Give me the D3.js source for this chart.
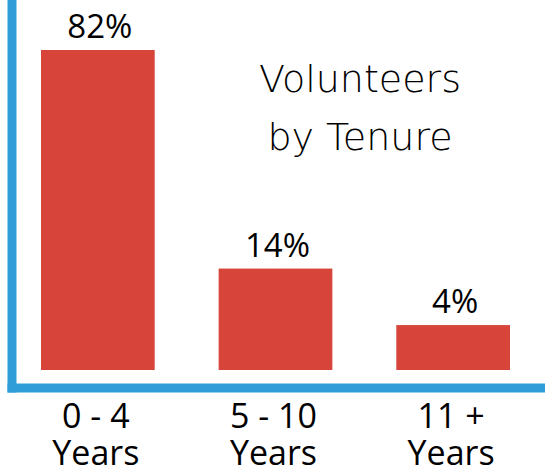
<!DOCTYPE html>
<meta charset="utf-8">
<style>
    body { margin: 0; background: #ffffff; }
    text { font-family: "Open Sans", sans-serif; fill: #000000; }
    .title { font-family: "DejaVu Sans", sans-serif; font-weight: 200; }
</style>

<!-- Load d3.js -->
<script src="https://d3js.org/d3.v7.min.js"></script>

<div id="graph"></div>

<script>
    // data
    var categories = ["0 - 4|Years", "5 - 10|Years", "11 +|Years"]
    var shares = [82, 14, 4]
    var valueLabels = ["82%", "14%", "4%"]
    var titleLines = ["Volunteers", "by Tenure"]

    var width = 545,
        height = 475,
        baseline = 370,
        axisY = 388,
        axisX = 12

    var svg = d3.select("#graph")
        .append("svg")
        .attr("width", width)
        .attr("height", height)

    // X scale
    var x = d3.scaleBand()
        .domain(categories)
        .range([41, 510])
        .paddingInner(0.36)
        .paddingOuter(0)

    // Y scale (the bars are not drawn linearly in the original)
    var y = d3.scalePow()
        .exponent(0.65)
        .domain([0, 82])
        .range([baseline, 50])

    // bars
    svg.selectAll("rect.bar")
        .data(shares)
        .enter()
        .append("rect")
        .attr("class", "bar")
        .attr("x", function (d, i) { return x(categories[i]) })
        .attr("y", function (d) { return y(d) })
        .attr("width", x.bandwidth())
        .attr("height", function (d) { return y(0) - y(d) })
        .style("fill", "#d6443a")

    // value labels
    svg.selectAll("text.value")
        .data(shares)
        .enter()
        .append("text")
        .attr("class", "value")
        .attr("x", function (d, i) { return x(categories[i]) + x.bandwidth() / 2 + 2 })
        .attr("y", function (d) { return y(d) - 12 })
        .attr("text-anchor", "middle")
        .attr("font-size", "33px")
        .text(function (d, i) { return valueLabels[i] })

    // axis lines
    svg.append("line")
        .attr("x1", axisX).attr("x2", axisX)
        .attr("y1", 0).attr("y2", axisY + 4.5)
        .attr("stroke", "#2f9ed8")
        .attr("stroke-width", 9)
    svg.append("line")
        .attr("x1", axisX - 4.5).attr("x2", width)
        .attr("y1", axisY).attr("y2", axisY)
        .attr("stroke", "#2f9ed8")
        .attr("stroke-width", 9)

    // category labels, two lines each
    var cat = svg.selectAll("text.cat")
        .data(categories)
        .enter()
        .append("text")
        .attr("class", "cat")
        .attr("text-anchor", "middle")
        .attr("font-size", "34px")

    cat.selectAll("tspan")
        .data(function (d) { return d.split("|").map(function (t) { return { t: t, c: d } }) })
        .enter()
        .append("tspan")
        .attr("x", function (d) { return x(d.c) + x.bandwidth() / 2 - 2 })
        .attr("y", function (d, i) { return 428 + i * 37 })
        .text(function (d) { return d.t })

    // title
    svg.append("text")
        .attr("class", "title")
        .attr("text-anchor", "middle")
        .attr("font-size", "38px")
        .selectAll("tspan")
        .data(titleLines)
        .enter()
        .append("tspan")
        .attr("x", 360)
        .attr("y", function (d, i) { return 92 + i * 58 })
        .text(function (d) { return d })
</script>
